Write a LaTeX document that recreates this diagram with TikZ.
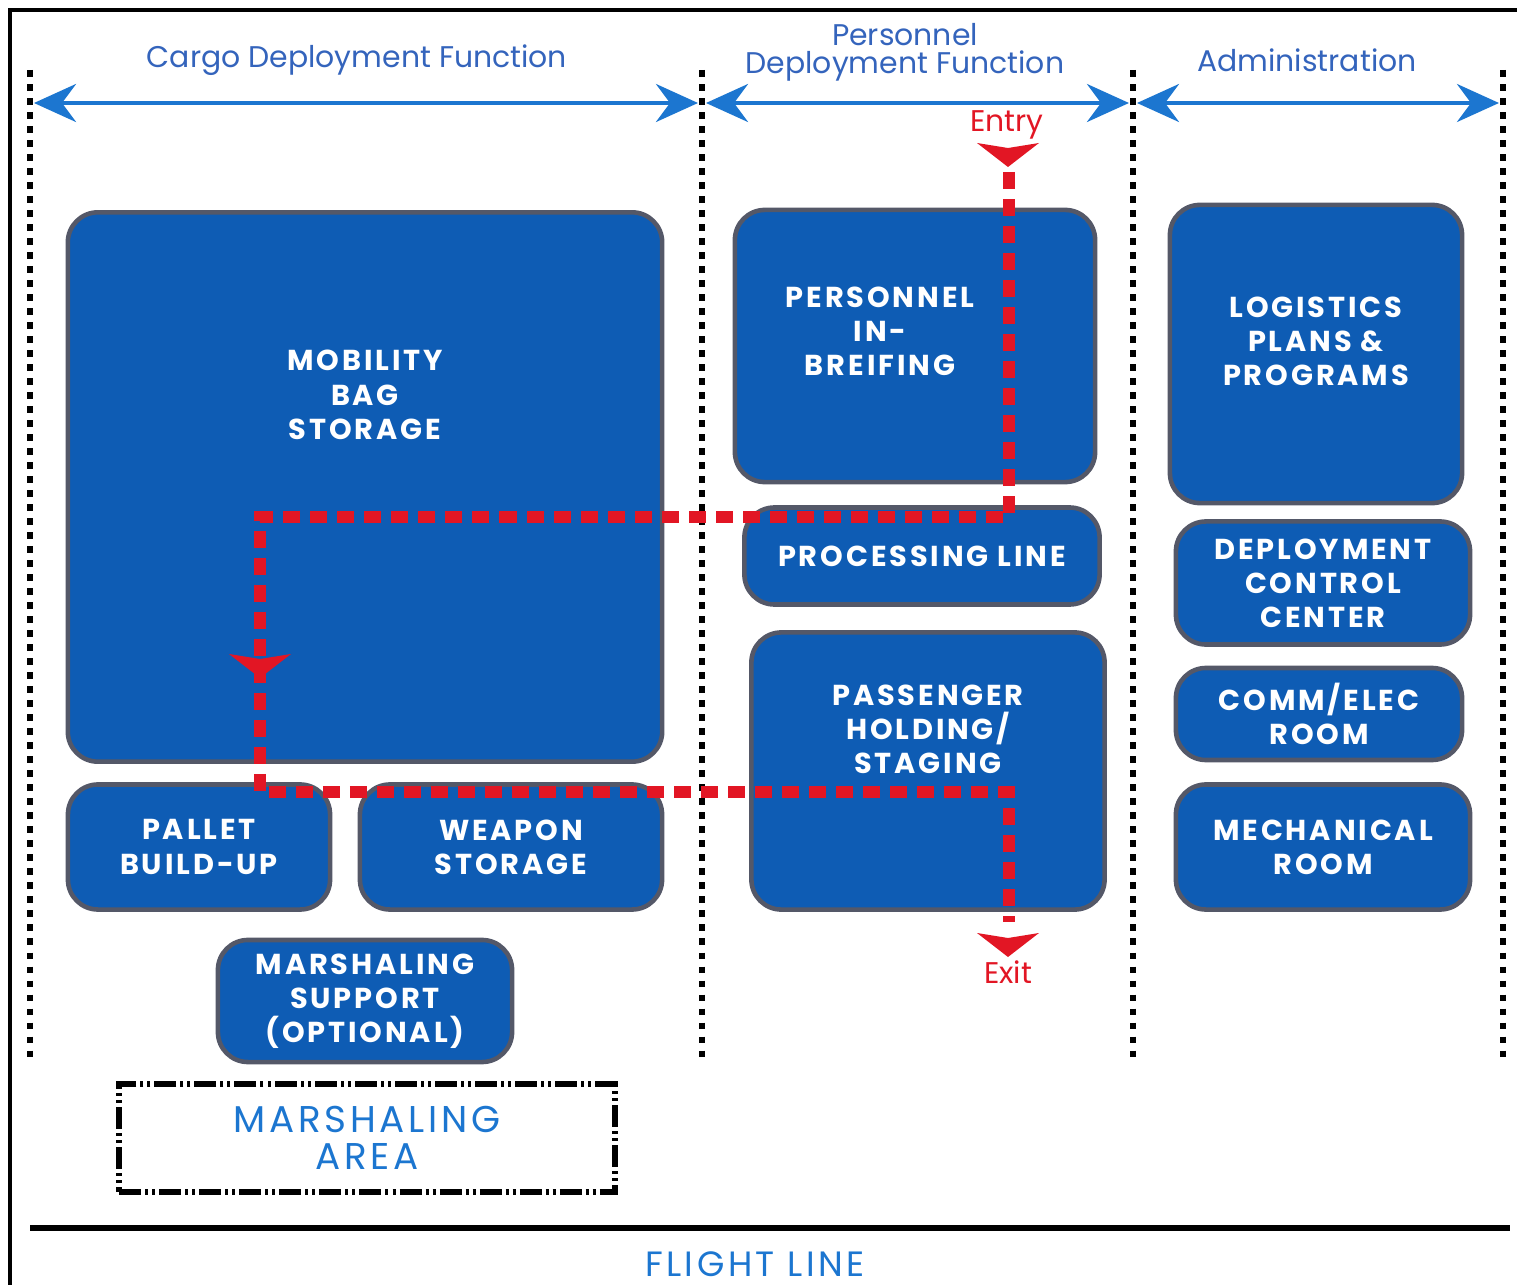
\documentclass[tikz,border=0pt]{standalone}
\usepackage{fontspec}
\setmainfont{Poppins}
\newfontfamily\roomfont[LetterSpace=10]{Poppins}
\usepackage{tikz}
\usetikzlibrary{arrows.meta}
\definecolor{roomblue}{RGB}{14,92,180}
\definecolor{roomedge}{RGB}{84,88,104}
\definecolor{spanblue}{RGB}{28,118,208}
\definecolor{headblue}{RGB}{52,100,188}
\definecolor{routered}{RGB}{226,22,36}
\tikzset{
  room/.style={
    rectangle,
    rounded corners=0.3cm,
    draw=roomedge,
    line width=1.3pt,
    fill=roomblue,
    text=white,
    align=center,
    inner sep=0pt,
    font=\roomfont\bfseries\fontsize{8.2}{9.7}\selectfont
  },
  roomtext/.style={
    text=white,
    align=center,
    font=\roomfont\bfseries\fontsize{8.2}{9.7}\selectfont
  },
}
\tikzstyle{header} = [text=headblue, align=center, font=\fontsize{8.5}{8}\selectfont]
\tikzstyle{zoneline} = [line width=1.7pt, dash pattern=on 0.065cm off 0.075cm]
\tikzstyle{span} = [spanblue, line width=1.1pt, shorten <=0.04cm, shorten >=0.04cm, {Stealth[length=0.42cm,width=0.38cm,inset=0.14cm]}-{Stealth[length=0.42cm,width=0.38cm,inset=0.14cm]}]
\tikzstyle{route} = [routered, line width=3.4pt, dash pattern=on 0.17cm off 0.1cm]
\tikzstyle{routelabel} = [text=routered, font=\fontsize{8.5}{10}\selectfont]
\tikzstyle{areabox} = [rectangle, draw=black, line width=1.7pt, dash pattern=on 0.22cm off 0.04cm on 0.03cm off 0.04cm on 0.03cm off 0.04cm, text=spanblue, align=center, inner sep=0pt, font=\roomfont\fontsize{10.6}{10.5}\selectfont]
\newcommand{\routetip}[1]{\fill[routered] (#1) ++(-31,-12) -- ++(31,5) -- ++(31,-5) -- ++(-31,24) -- cycle;}

\begin{document}
\begin{tikzpicture}[x=0.01cm, y=-0.01cm]
	\useasboundingbox (0,0) rectangle (1517,1285);
	% frame
	\draw [line width=0.9pt] (10,1300) -- (10,10) -- (1530,10);
	
	% zones
	\foreach \xx/\nm in {30/za, 702/zb, 1133/zc, 1503/zd} {
		\draw [zoneline] (\xx,70) -- (\xx,1060);
		\coordinate (\nm) at (\xx,103);
	}
	\draw [span] (za) -- (zb);
	\draw [span] (zb) -- (zc);
	\draw [span] (zc) -- (zd);
	\node [header] (cargo) at (357,60) {Cargo Deployment Function};
	\node [header] (personnel) at (905,52) {Personnel\\Deployment Function};
	\node [header] (admin) at (1307,60) {Administration};
	
	% cargo rooms
	\node [room, minimum width=5.94cm, minimum height=5.49cm, label={[roomtext, yshift=0.92cm]center:MOBILITY\\BAG\\STORAGE}] (mobility) at (365,487) {};
	\node [room, minimum width=2.62cm, minimum height=1.25cm] (pallet) at (199,847) {PALLET\\BUILD-UP};
	\node [room, minimum width=3.02cm, minimum height=1.25cm] (weapon) at (511,847) {WEAPON\\STORAGE};
	\node [room, minimum width=2.94cm, minimum height=1.22cm] (support) at (365,1001) {MARSHALING\\SUPPORT\\(OPTIONAL)};
	
	% personnel rooms
	\node [room, minimum width=3.6cm, minimum height=2.72cm, label={[roomtext, xshift=-0.35cm, yshift=0.15cm]center:PERSONNEL\\IN-\\BREIFING}] (inbrief) at (915,346) {};
	\node [room, minimum width=3.55cm, minimum height=0.97cm] (processing) at (922,556) {PROCESSING LINE};
	\node [room, minimum width=3.53cm, minimum height=2.77cm, label={[roomtext, yshift=0.42cm]center:PASSENGER\\HOLDING/\\STAGING}] (passenger) at (928,771) {};
	
	% administration rooms
	\node [room, minimum width=2.92cm, minimum height=2.98cm, label={[roomtext, yshift=0.13cm]center:LOGISTICS\\PLANS \&\\PROGRAMS}] (logistics) at (1316,354) {};
	\node [room, minimum width=2.94cm, minimum height=1.23cm] (control) at (1323,583) {DEPLOYMENT\\CONTROL\\CENTER};
	\node [room, minimum width=2.86cm, minimum height=0.92cm] (comm) at (1319,714) {COMM/ELEC\\ROOM};
	\node [room, minimum width=2.94cm, minimum height=1.25cm] (mechanical) at (1323,847) {MECHANICAL\\ROOM};
	
	% route
	\node [routelabel] (entry) at (1007,125) {Entry};
	\node [routelabel] (exit) at (1008,972) {Exit};
	\coordinate (routein) at (1009,172);
	\coordinate (routeout) at (1009,922);
	\draw [route] (routein) |- (260,517) |- (1009,792) -- (routeout);
	\routetip{1008,155}
	\routetip{260,666}
	\routetip{1008,945}
	
	% marshaling area and flight line
	\node [areabox, minimum width=4.95cm, minimum height=1.07cm] (marshal) at (367,1138) {MARSHALING\\AREA};
	\coordinate (flwest) at (30,1228);
	\coordinate (fleast) at (1510,1228);
	\draw [line width=1.8pt] (flwest) -- (fleast);
	\node [header, text=spanblue, font=\roomfont\fontsize{10}{12}\selectfont] (flight) at (755,1264) {FLIGHT LINE};
\end{tikzpicture}
\end{document}
